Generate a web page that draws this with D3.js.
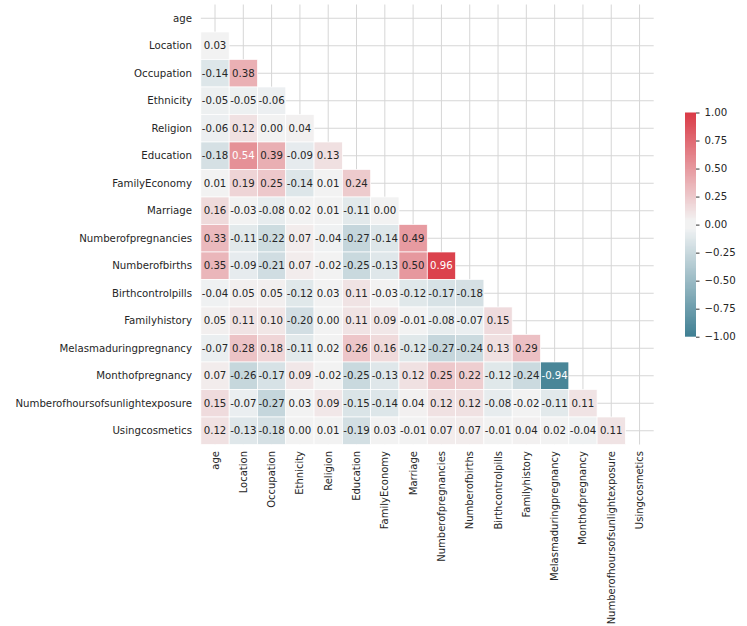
<!DOCTYPE html>
<html>
<head>
<meta charset="utf-8">
<script src="https://cdn.jsdelivr.net/npm/d3@7"></script>
<style>
  body { margin: 0; background: #fff; }
  text { font-family: "DejaVu Sans", sans-serif; }
</style>
</head>
<body>
<svg id="chart" width="747" height="626"></svg>
<script>
// Variable names (rows and columns of the correlation matrix)
const variables = [
  "age", "Location", "Occupation", "Ethnicity", "Religion", "Education",
  "FamilyEconomy", "Marriage", "Numberofpregnancies", "Numberofbirths",
  "Birthcontrolpills", "Familyhistory", "Melasmaduringpregnancy",
  "Monthofpregnancy", "Numberofhoursofsunlightexposure", "Usingcosmetics"
];

// Lower triangle of the correlation matrix, one array per row (diagonal excluded)
const corrAge = [];
const corrLocation = [0.03];
const corrOccupation = [-0.14, 0.38];
const corrEthnicity = [-0.05, -0.05, -0.06];
const corrReligion = [-0.06, 0.12, 0.00, 0.04];
const corrEducation = [-0.18, 0.54, 0.39, -0.09, 0.13];
const corrFamilyEconomy = [0.01, 0.19, 0.25, -0.14, 0.01, 0.24];
const corrMarriage = [0.16, -0.03, -0.08, 0.02, 0.01, -0.11, 0.00];
const corrPregnancies = [0.33, -0.11, -0.22, 0.07, -0.04, -0.27, -0.14, 0.49];
const corrBirths = [0.35, -0.09, -0.21, 0.07, -0.02, -0.25, -0.13, 0.50, 0.96];
const corrBirthcontrol = [-0.04, 0.05, 0.05, -0.12, 0.03, 0.11, -0.03, -0.12, -0.17, -0.18];
const corrFamilyhistory = [0.05, 0.11, 0.10, -0.20, 0.00, 0.11, 0.09, -0.01, -0.08, -0.07, 0.15];
const corrMelasma = [-0.07, 0.28, 0.18, -0.11, 0.02, 0.26, 0.16, -0.12, -0.27, -0.24, 0.13, 0.29];
const corrMonth = [0.07, -0.26, -0.17, 0.09, -0.02, -0.25, -0.13, 0.12, 0.25, 0.22, -0.12, -0.24, -0.94];
const corrSunlight = [0.15, -0.07, -0.27, 0.03, 0.09, -0.15, -0.14, 0.04, 0.12, 0.12, -0.08, -0.02, -0.11, 0.11];
const corrCosmetics = [0.12, -0.13, -0.18, 0.00, 0.01, -0.19, 0.03, -0.01, 0.07, 0.07, -0.01, 0.04, 0.02, -0.04, 0.11];

const corrRows = [
  corrAge, corrLocation, corrOccupation, corrEthnicity, corrReligion, corrEducation,
  corrFamilyEconomy, corrMarriage, corrPregnancies, corrBirths, corrBirthcontrol,
  corrFamilyhistory, corrMelasma, corrMonth, corrSunlight, corrCosmetics
];

const colorbarTicks = [1, 0.75, 0.5, 0.25, 0, -0.25, -0.5, -0.75, -1];

const FONT_SIZE = 10.2;

// ---- HUSL -> sRGB, used to build the diverging colormap ----
const M = [
  [3.240969941904521, -1.537383177570093, -0.498610760293],
  [-0.96924363628087, 1.87596750150772, 0.041555057407175],
  [0.055630079696993, -0.20397695888897, 1.056971514242878]
];
const REF_U = 0.19783000664283, REF_V = 0.46831999493879;
const KAPPA = 903.2962962, EPS = 0.0088564516;

function bounds(L) {
  const s1 = Math.pow(L + 16, 3) / 1560896;
  const s2 = s1 > EPS ? s1 : L / KAPPA;
  const out = [];
  for (const [m1, m2, m3] of M) {
    for (const t of [0, 1]) {
      const top1 = (284517 * m1 - 94839 * m3) * s2;
      const top2 = (838422 * m3 + 769860 * m2 + 731718 * m1) * L * s2 - 769860 * t * L;
      const bottom = (632260 * m3 - 126452 * m2) * s2 + 126452 * t;
      out.push([top1 / bottom, top2 / bottom]);
    }
  }
  return out;
}
function maxChroma(L, H) {
  const h = H / 360 * Math.PI * 2;
  let min = Infinity;
  for (const [slope, intercept] of bounds(L)) {
    const len = intercept / (Math.sin(h) - slope * Math.cos(h));
    if (len >= 0 && len < min) min = len;
  }
  return min;
}
function huslToRgb(H, S, L) {
  const C = maxChroma(L, H) / 100 * S;
  const h = H / 360 * Math.PI * 2;
  const U = Math.cos(h) * C, V = Math.sin(h) * C;
  const vu = U / (13 * L) + REF_U, vv = V / (13 * L) + REF_V;
  const Y = L <= 8 ? L / KAPPA : Math.pow((L + 16) / 116, 3);
  const X = -(9 * Y * vu) / ((vu - 4) * vv - vu * vv);
  const Z = (9 * Y - 15 * vv * Y - vv * X) / (3 * vv);
  const f = c => c <= 0.0031308 ? 12.92 * c : 1.055 * Math.pow(c, 1 / 2.4) - 0.055;
  return M.map(r => Math.min(1, Math.max(0, f(r[0] * X + r[1] * Y + r[2] * Z))));
}
function blend(a, b, n) {
  return d3.range(n).map(k => a.map((v, i) => v + (b[i] - v) * k / (n - 1)));
}
const toHex = c => d3.rgb(c[0] * 255, c[1] * 255, c[2] * 255).formatHex();

// diverging palette: blue-teal (hue 220) -> light grey -> red (hue 10), 256 steps
const negFull = huslToRgb(220, 75, 50), posFull = huslToRgb(10, 75, 50);
const negLight = huslToRgb(220, 75 * 0.15, 95), posLight = huslToRgb(10, 75 * 0.15, 95);
const palette = [
  ...blend(negFull, negLight, 123),
  ...d3.range(10).map(() => [0.95, 0.95, 0.95]),
  ...blend(posLight, posFull, 123)
].map(toHex);

const color = d3.scaleQuantize().domain([-1, 1]).range(palette);

function textColorFor(hex) {
  const c = d3.rgb(hex);
  const lin = v => { v /= 255; return v <= 0.03928 ? v / 12.92 : Math.pow((v + 0.055) / 1.055, 2.4); };
  const lum = 0.2126 * lin(c.r) + 0.7152 * lin(c.g) + 0.0722 * lin(c.b);
  return lum > 0.408 ? "#262626" : "#ffffff";
}

// ---- layout ----
const svg = d3.select("#chart");
const plot = { left: 200.85, right: 653.7, top: 4.5, bottom: 444.5 };

const x = d3.scaleBand().domain(variables).range([plot.left, plot.right]);
const y = d3.scaleBand().domain(variables).range([plot.top, plot.bottom]);

// background grid at category centres
const grid = svg.append("g").attr("stroke", "#d6d6d6").attr("stroke-width", 1);
grid.selectAll("line.v").data(variables).join("line")
  .attr("class", "v")
  .attr("x1", d => x(d) + x.bandwidth() / 2).attr("x2", d => x(d) + x.bandwidth() / 2)
  .attr("y1", plot.top).attr("y2", plot.bottom);
grid.selectAll("line.h").data(variables).join("line")
  .attr("class", "h")
  .attr("x1", plot.left).attr("x2", plot.right)
  .attr("y1", d => y(d) + y.bandwidth() / 2).attr("y2", d => y(d) + y.bandwidth() / 2);

// cells of the lower triangle
const cells = [];
corrRows.forEach((row, i) => row.forEach((v, j) => {
  cells.push({ row: variables[i], col: variables[j], value: v });
}));

const cellG = svg.append("g");
cellG.selectAll("rect").data(cells).join("rect")
  .attr("x", d => x(d.col))
  .attr("y", d => y(d.row))
  .attr("width", x.bandwidth())
  .attr("height", y.bandwidth())
  .attr("fill", d => color(d.value))
  .attr("stroke", "#ffffff")
  .attr("stroke-width", 0.7);

cellG.selectAll("text").data(cells).join("text")
  .attr("x", d => x(d.col) + x.bandwidth() / 2)
  .attr("y", d => y(d.row) + y.bandwidth() / 2)
  .attr("dy", "0.36em")
  .attr("text-anchor", "middle")
  .attr("font-size", FONT_SIZE)
  .attr("fill", d => textColorFor(color(d.value)))
  .text(d => d.value.toFixed(2));

// row labels
svg.append("g").selectAll("text").data(variables).join("text")
  .attr("x", 192)
  .attr("y", d => y(d) + y.bandwidth() / 2)
  .attr("dy", "0.35em")
  .attr("text-anchor", "end")
  .attr("font-size", FONT_SIZE)
  .attr("fill", "#262626")
  .text(d => d);

// column labels, rotated
svg.append("g").selectAll("text").data(variables).join("text")
  .attr("transform", d => `translate(${x(d) + x.bandwidth() / 2},${451}) rotate(-90)`)
  .attr("dy", "0.35em")
  .attr("text-anchor", "end")
  .attr("font-size", 10)
  .attr("fill", "#262626")
  .text(d => d);

// ---- colorbar ----
const cb = { x: 685, width: 11, top: 112.5, bottom: 336.7 };
const cbY = d3.scaleLinear().domain([-1, 1]).range([cb.bottom, cb.top]);

const defs = svg.append("defs");
const grad = defs.append("linearGradient").attr("id", "cbgrad")
  .attr("x1", 0).attr("y1", 1).attr("x2", 0).attr("y2", 0);
palette.forEach((c, k) => {
  grad.append("stop").attr("offset", k / palette.length).attr("stop-color", c);
  grad.append("stop").attr("offset", (k + 1) / palette.length).attr("stop-color", c);
});
svg.append("rect")
  .attr("x", cb.x).attr("y", cbY(1))
  .attr("width", cb.width).attr("height", cbY(-1) - cbY(1))
  .attr("fill", "url(#cbgrad)");

const cbAxis = svg.append("g")
  .attr("transform", `translate(${cb.x + cb.width},0)`)
  .call(d3.axisRight(cbY).tickValues(colorbarTicks).tickSize(3.5).tickPadding(5)
    .tickFormat(d3.format(".2f")));
cbAxis.select(".domain").remove();
cbAxis.selectAll("line").attr("stroke", "#333");
cbAxis.selectAll("text")
  .attr("font-family", "DejaVu Sans, sans-serif")
  .attr("font-size", FONT_SIZE)
  .attr("fill", "#262626");
</script>
</body>
</html>
